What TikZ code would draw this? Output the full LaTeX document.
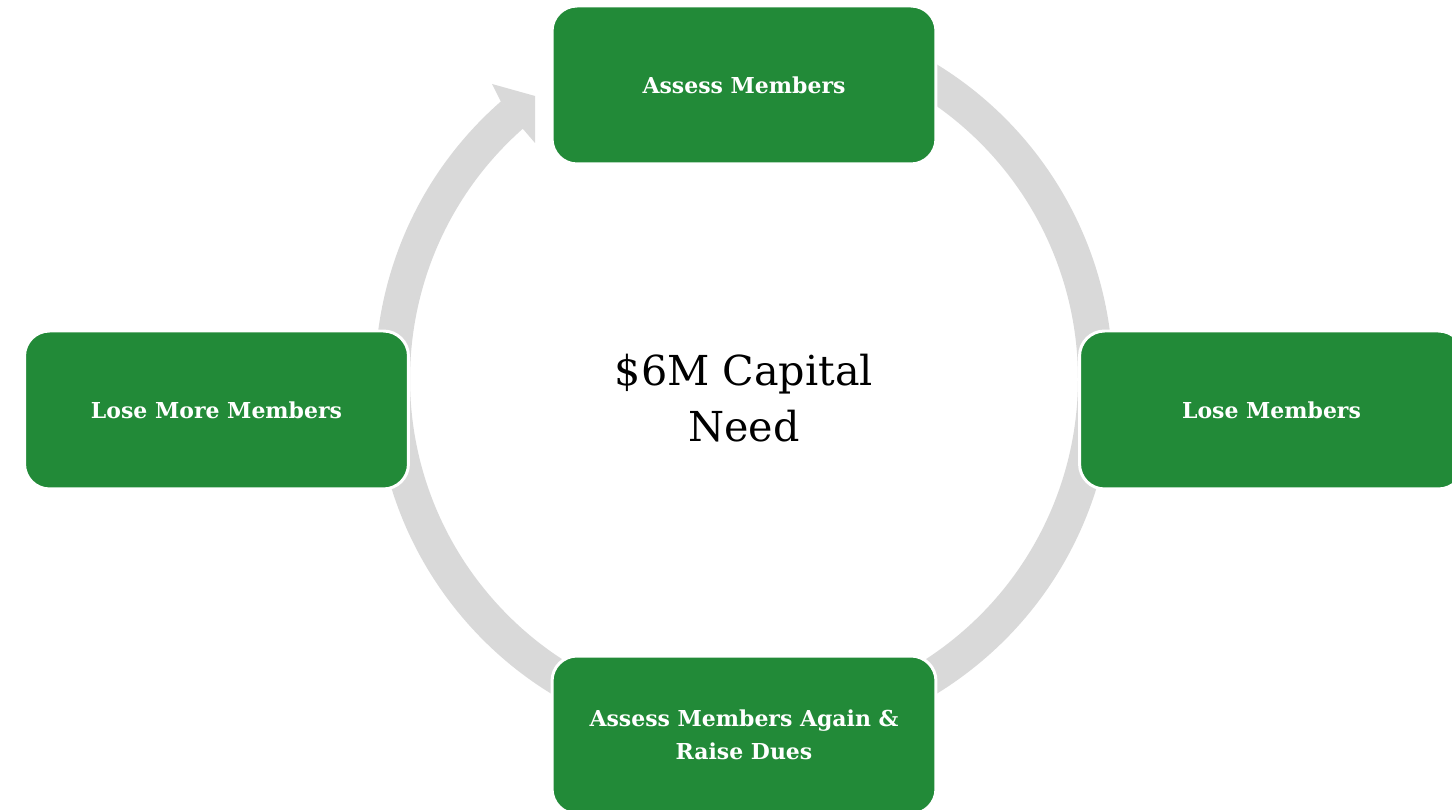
\documentclass[tikz,border=0pt]{standalone}
\usepackage{fontspec}
\setmainfont{DejaVu Serif}
\usetikzlibrary{calc}
\definecolor{boxgreen}{HTML}{228A38}
\definecolor{ringgray}{HTML}{D9D9D9}

\begin{document}
\begin{tikzpicture}[x=0.02cm, y=0.02cm,
  cyclebox/.style={draw=white, line width=1.7pt, fill=boxgreen, rounded corners=0.5cm,
    minimum width=7.68cm, minimum height=3.16cm, text=white, align=center,
    font=\fontsize{12.5}{18.7}\selectfont\bfseries}]
\useasboundingbox (0,0) rectangle (1452,810);
\clip (0,0) rectangle (1452,810);
\coordinate (ring) at (744,431);
\draw[ringgray, line width=0.7cm] (ring) ++(131.2:351.5) arc[start angle=131.2, end angle=420, radius=351.5];
\fill[ringgray] (492,726) -- (535,714) -- (535,667) -- (523,681) -- (501,708) -- cycle;
\node[cyclebox] (assess) at (744,725) {Assess Members};
\node[cyclebox] (lose) at (1271.5,400) {Lose Members};
\node[cyclebox] (again) at (744,75) {Assess Members Again \&\\Raise Dues};
\node[cyclebox] (loseMore) at (216.5,400) {Lose More Members};
\node[align=center, font=\fontsize{23.5}{32}\selectfont] (capital) at (744,412) {\$6M Capital\\Need};
\end{tikzpicture}
\end{document}
